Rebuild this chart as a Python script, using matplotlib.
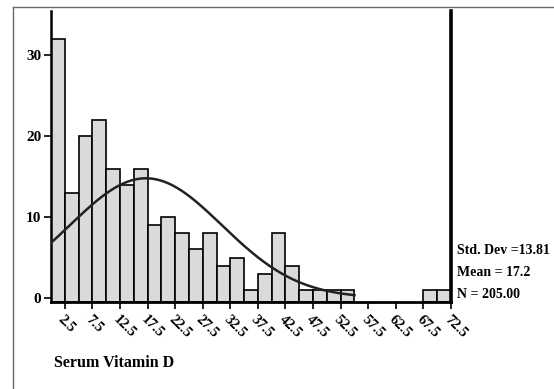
import numpy as np
import matplotlib
matplotlib.use("Agg")
import matplotlib.pyplot as plt
from matplotlib.lines import Line2D

# histogram of serum vitamin D, bins of width 2.5 from 0 to 72.5
bin_left = np.arange(0, 72.5, 2.5)
counts = [32, 13, 20, 22, 16, 14, 16, 9, 10, 8, 6, 8, 4, 5, 1,
          3, 8, 4, 1, 1, 1, 1, 0, 0, 0, 0, 0, 1, 1]
tick_pos = [2.5, 7.5, 12.5, 17.5, 22.5, 27.5, 32.5, 37.5, 42.5, 47.5,
            52.5, 57.5, 62.5, 67.5, 72.5]
tick_lab = ["2.5", "7.5", "12.5", "17.5", "22.5", "27.5", "32.5", "37.5",
            "42.5", "47.5", "52.5", "57.5", "62.5", "67.5", "72.5"]
y_ticks = [0, 10, 20, 30]

std_dev = 13.81
mean = 17.2
n = 205
width = 2.5

font = "Liberation Serif"
W, H = 554, 389

fig = plt.figure(figsize=(W / 100, H / 100), dpi=100)
fig.patch.set_facecolor("white")

# outer grey frame (only left and top edges are visible)
fx = 13 / W
fy = 1 - 7 / H
fig.add_artist(Line2D([fx, fx], [0, fy], transform=fig.transFigure, color="#6a6a6a", lw=1.0))
fig.add_artist(Line2D([fx, 1], [fy, fy], transform=fig.transFigure, color="#6a6a6a", lw=1.0))

ax = fig.add_axes([51 / W, 1 - 302 / H, 400 / W, 291 / H])
ylo, yhi = -0.5, 35.5
ax.set_xlim(0, 72.5)
ax.set_ylim(ylo, yhi)

# bars drawn up from the axis line, empty bins left out
cnt = np.array(counts)
keep = cnt > 0
ax.bar(bin_left[keep], cnt[keep] - ylo, width=width, bottom=ylo, align="edge",
       color="#dadada", edgecolor="black", linewidth=1.2, zorder=2)

# fitted normal curve
xs = np.linspace(0, 55, 300)
ys = n * width / (std_dev * np.sqrt(2 * np.pi)) * np.exp(-0.5 * ((xs - mean) / std_dev) ** 2)
ax.plot(xs, ys, color="#222222", lw=1.8, zorder=3)

ax.spines["top"].set_visible(False)
ax.spines["left"].set_linewidth(1.8)
ax.spines["bottom"].set_linewidth(2.0)
ax.spines["right"].set_linewidth(2.6)

ax.set_yticks(y_ticks)
ax.set_yticklabels([str(v) for v in y_ticks], fontfamily=font, fontweight="bold", fontsize=11)
ax.set_xticks(tick_pos)
ax.set_xticklabels(tick_lab, fontfamily=font, fontweight="bold", fontsize=10.5,
                   rotation=-45, ha="left", va="top", rotation_mode="anchor")
ax.tick_params(axis="both", length=5, width=1.2, color="black", pad=2)
ax.tick_params(axis="x", pad=3)

# stats block to the right of the plot
stats = ["Std. Dev =13.81", "Mean = 17.2", "N = 205.00"]
for i, s in enumerate(stats):
    fig.text(457 / W, 1 - (254 + i * 22) / H, s, fontfamily=font, fontweight="bold",
             fontsize=10, va="baseline", ha="left")

fig.text(54 / W, 1 - 367 / H, "Serum Vitamin D", fontfamily=font, fontweight="bold",
         fontsize=11.5, va="baseline", ha="left")

fig.savefig("out.png", dpi=100, facecolor="white")
